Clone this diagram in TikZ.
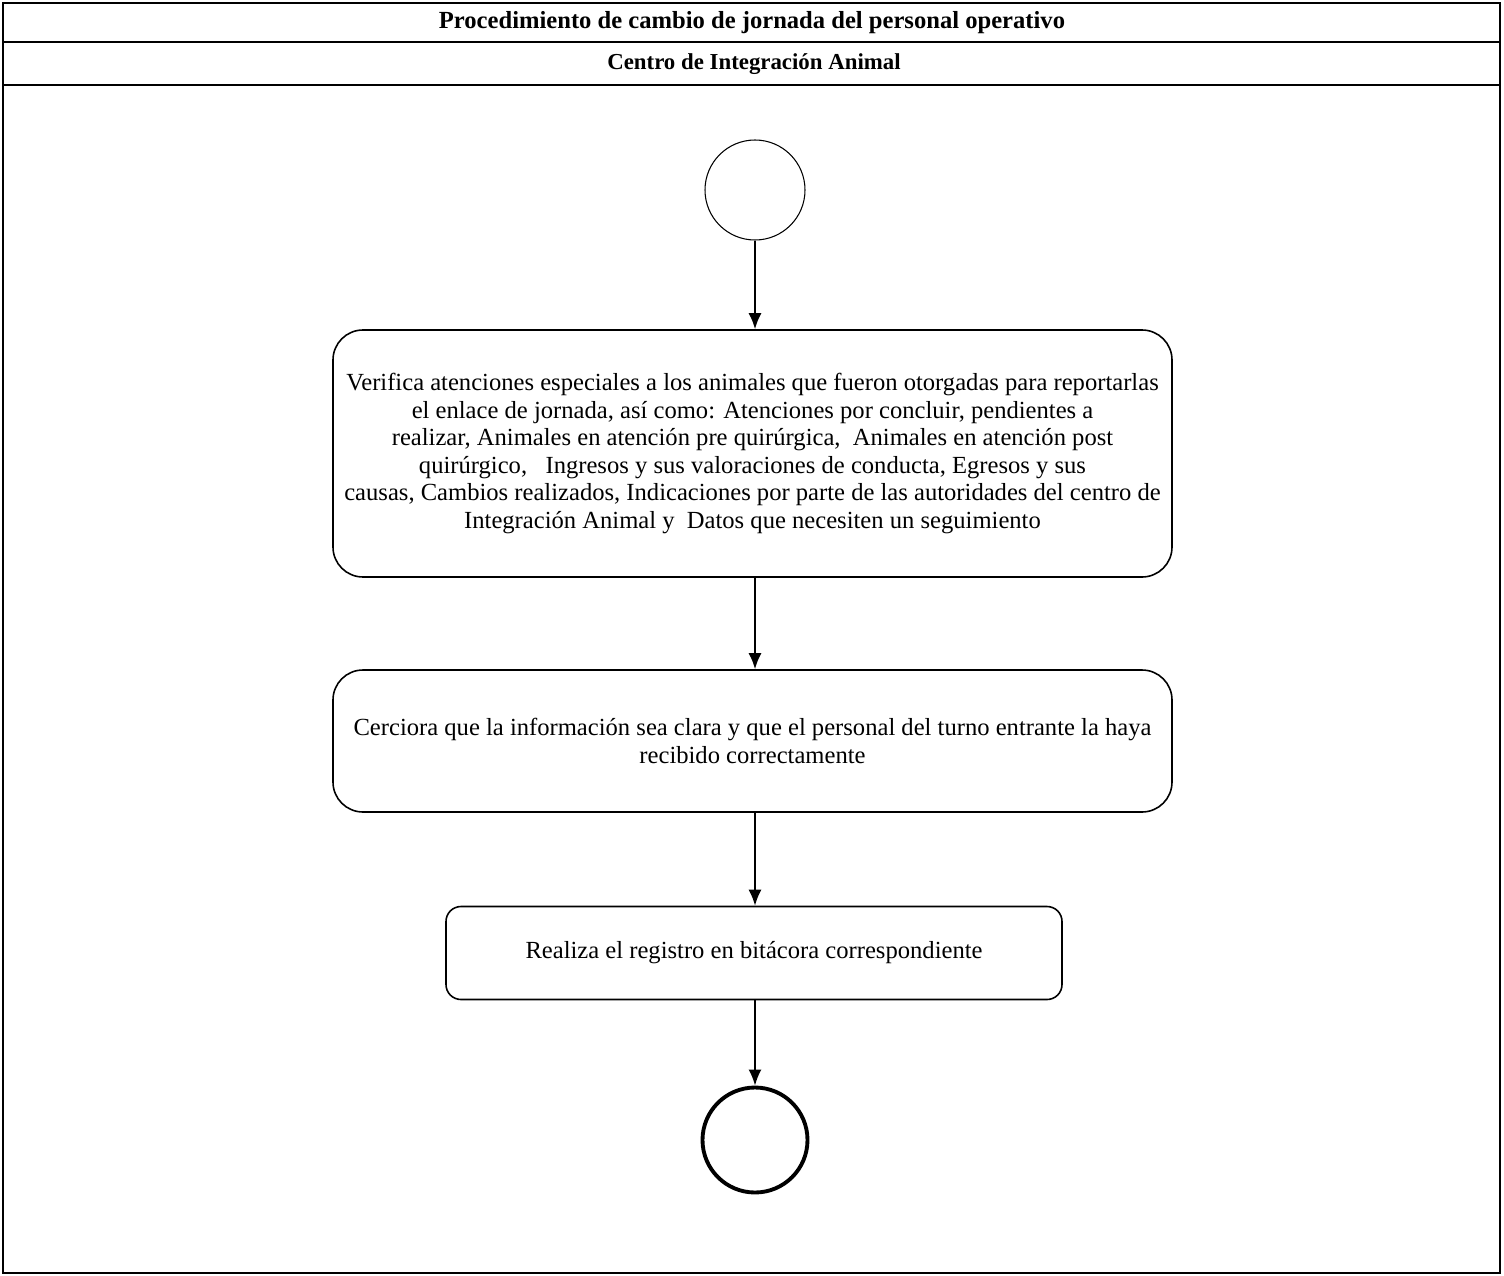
\documentclass[tikz,border=0pt]{standalone}
\usepackage{fontspec}
\setmainfont{Liberation Serif}
\usepackage{tikz}
\usetikzlibrary{arrows.meta,positioning}

\begin{document}
\begin{tikzpicture}[
		x=0.2mm, y=-0.2mm,
		>=Latex,
		font=\fontsize{14}{15.6}\selectfont,
		actividad/.style={draw, line width=0.9pt, rounded corners=6mm, align=center, inner sep=0pt},
		inicio/.style={draw, circle, line width=0.6pt, minimum size=20mm, inner sep=0pt},
		final/.style={draw, circle, line width=2.2pt, minimum size=21mm, inner sep=0pt},
		titulo/.style={font=\fontsize{13}{15}\selectfont\bfseries, anchor=center},
		flujo/.style={->, line width=1pt, >={Latex[length=3.2mm, width=2.6mm]}}
		]
		
		\useasboundingbox (0,0) rectangle (1504,1276);
		
		% Marco y encabezados
		\draw[line width=0.8pt] (3,3) rectangle (1500,1273);
		\draw[line width=0.8pt] (3,42) -- (1500,42);
		\draw[line width=0.8pt] (3,85) -- (1500,85);
		\node[titulo, font=\fontsize{14}{15}\selectfont\bfseries] (proc) at (752,23) {Procedimiento de cambio de jornada del personal operativo};
		\node[titulo] (centro) at (754,64) {Centro de Integración Animal};
		
		% Nodos del flujo
		\node[inicio] (inicio) at (755,190) {};
		\node[actividad, minimum width=167.8mm, minimum height=49.4mm] (verifica) at (752.5,453.5) {Verifica atenciones especiales a los animales que fueron otorgadas para reportarlas\\ el enlace de jornada, así como: Atenciones por concluir, pendientes a\\ realizar, Animales en atención pre quirúrgica,\ \ Animales en atención post\\ quirúrgico,\ \ \ Ingresos y sus valoraciones de conducta, Egresos y sus\\ causas, Cambios realizados, Indicaciones por parte de las autoridades del centro de\\ Integración Animal y\ \ Datos que necesiten un seguimiento};
		\node[actividad, minimum width=167.8mm, minimum height=28.4mm] (cerciora) at (752.5,741) {Cerciora que la información sea clara y que el personal del turno entrante la haya\\ recibido correctamente};
		\node[actividad, rounded corners=3mm, minimum width=123.2mm, minimum height=18.6mm] (registro) at (754,953) {Realiza el registro en bitácora correspondiente};
		\node[final] (fin) at (755,1140) {};
		
		% Conectores
		\draw[flujo] (inicio.south) -- (verifica.north -| inicio.south);
		\draw[flujo] (verifica.south -| inicio.south) -- (cerciora.north -| inicio.south);
		\draw[flujo] (cerciora.south -| inicio.south) -- (registro.north -| inicio.south);
		\draw[flujo] (registro.south -| inicio.south) -- (fin.north);
		
	\end{tikzpicture}
\end{document}
